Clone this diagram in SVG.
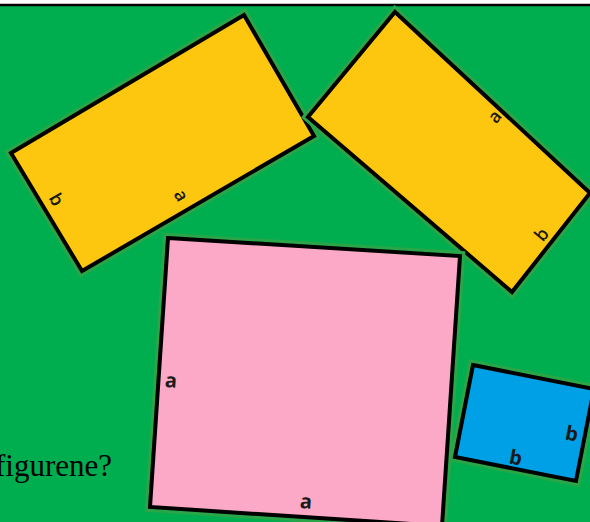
<svg xmlns="http://www.w3.org/2000/svg" width="590" height="522" viewBox="0 0 590 522">
<style>
.halo{fill:none;stroke:#2aa548;stroke-width:10;stroke-linejoin:miter}
.shape{stroke:#000;stroke-width:4;stroke-linejoin:miter}
.lab{font-family:"Open Sans","DejaVu Sans",sans-serif;fill:#1a1a1a;text-anchor:middle;dominant-baseline:central}
.ly{font-size:18px;font-weight:600}
.lb{font-size:20px;font-weight:bold}
</style>
<rect x="0" y="0" width="590" height="522" fill="#ffffff"/>
<rect x="0" y="5" width="590" height="517" fill="#00ae50"/>
<line x1="0" y1="5" x2="590" y2="5" stroke="#000" stroke-width="2.5"/>
<text x="112" y="476" text-anchor="end" font-family="Liberation Serif,serif" font-size="31" fill="#000">figurene?</text>
<g id="rect-left">
<polygon class="halo" points="244,15 314,136 82,271 11,153"/>
<polygon class="shape" fill="#fdc70f" points="244,15 314,136 82,271 11,153"/>
<text class="lab ly" transform="translate(57,199) rotate(60)">b</text>
<text class="lab ly" transform="translate(182,195) rotate(60)">a</text>
</g>
<g id="rect-right">
<polygon class="halo" points="395,12 590,193 512,292 308,117"/>
<polygon class="shape" fill="#fdc70f" points="395,12 590,193 512,292 308,117"/>
<text class="lab ly" transform="translate(494,116) rotate(-50)">a</text>
<text class="lab ly" transform="translate(541,234) rotate(-50)">b</text>
</g>
<g id="square-a">
<polygon class="halo" points="168,238 460,256 442,526 150,507"/>
<polygon class="shape" fill="#fba9c6" points="168,238 460,256 442,526 150,507"/>
<text class="lab lb" transform="translate(171,380) rotate(4)">a</text>
<text class="lab lb" transform="translate(306,501) rotate(4)">a</text>
</g>
<g id="square-b">
<polygon class="halo" points="473,365 594,389 576,481 455,457"/>
<polygon class="shape" fill="#00a0e6" points="473,365 594,389 576,481 455,457"/>
<text class="lab lb" transform="translate(572,433) rotate(11)">b</text>
<text class="lab lb" transform="translate(516,457) rotate(11)">b</text>
</g>
<g id="connectors"/>
</svg>
